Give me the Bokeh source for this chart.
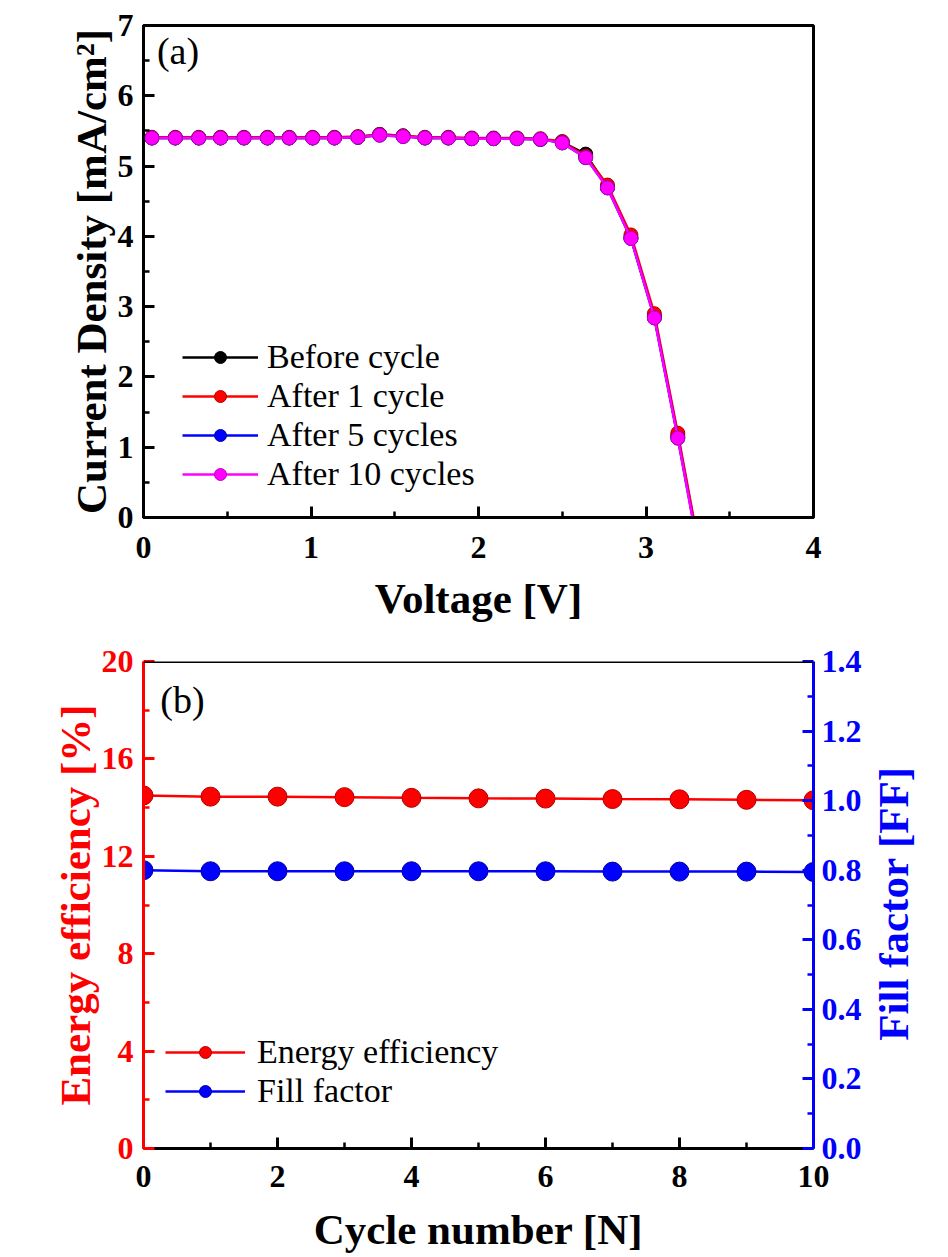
import math
from bokeh.plotting import figure
from bokeh.models import (Range1d, LinearAxis, FixedTicker, Legend, LegendItem, Label, Span,
                          PrintfTickFormatter)
from bokeh.layouts import column
from bokeh.embed import file_html
from bokeh.resources import INLINE

# ---------------- data (panel a) ----------------
voltage = [0.05, 0.19, 0.33, 0.46, 0.60, 0.74, 0.87, 1.01, 1.14, 1.28, 1.41, 1.55,
           1.68, 1.82, 1.96, 2.09, 2.23, 2.37, 2.50, 2.64, 2.77, 2.91, 3.05, 3.19, 3.32]
j_before = [5.40, 5.40, 5.40, 5.40, 5.40, 5.40, 5.40, 5.40, 5.40, 5.41, 5.45, 5.43,
            5.40, 5.40, 5.39, 5.39, 5.39, 5.38, 5.34, 5.17, 4.70, 3.98, 2.86, 1.16, -0.50]
j_1cycle = [5.41, 5.41, 5.41, 5.41, 5.41, 5.41, 5.41, 5.41, 5.41, 5.42, 5.45, 5.43,
            5.41, 5.41, 5.40, 5.40, 5.40, 5.39, 5.35, 5.14, 4.73, 4.02, 2.90, 1.20, -0.47]
j_5cycle = [5.40, 5.40, 5.40, 5.40, 5.40, 5.40, 5.40, 5.40, 5.40, 5.41, 5.44, 5.42,
            5.40, 5.40, 5.39, 5.39, 5.39, 5.38, 5.33, 5.12, 4.69, 3.97, 2.84, 1.13, -0.55]
j_10cycle = [5.40, 5.40, 5.40, 5.40, 5.40, 5.40, 5.40, 5.40, 5.40, 5.41, 5.44, 5.42,
             5.40, 5.40, 5.39, 5.39, 5.39, 5.38, 5.33, 5.12, 4.69, 3.97, 2.84, 1.13, -0.55]
series_a_names = ["Before cycle", "After 1 cycle", "After 5 cycles", "After 10 cycles"]
x_ticks_a = [0, 1, 2, 3, 4]
y_ticks_a = [0, 1, 2, 3, 4, 5, 6, 7]

# ---------------- data (panel b) ----------------
cycles = [0, 1, 2, 3, 4, 5, 6, 7, 8, 9, 10]
energy_eff = [14.50, 14.45, 14.45, 14.43, 14.40, 14.38, 14.37, 14.35, 14.34, 14.32, 14.30]
fill_factor = [0.800, 0.797, 0.797, 0.797, 0.797, 0.797, 0.797, 0.796, 0.796, 0.796, 0.795]
x_ticks_b = [0, 2, 4, 6, 8, 10]
y_ticks_b = [0, 4, 8, 12, 16, 20]
ff_ticks = [0.0, 0.2, 0.4, 0.6, 0.8, 1.0, 1.2, 1.4]

FONT = "Liberation Serif"
TICK_FS = "32px"
LABEL_FS = "43px"
LEG_FS = "34px"
W = 944
RB = 131


def style_axis(ax, color="black"):
    ax.axis_line_width = 3
    ax.axis_line_color = color
    ax.major_tick_line_color = color
    ax.minor_tick_line_color = color
    ax.major_tick_line_width = 3
    ax.minor_tick_line_width = 2.5
    ax.major_tick_in = 11
    ax.major_tick_out = 0
    ax.minor_tick_in = 6
    ax.minor_tick_out = 0
    ax.major_label_text_font = FONT
    ax.major_label_text_font_style = "bold"
    ax.major_label_text_font_size = TICK_FS
    ax.major_label_text_color = color
    ax.axis_label_text_font = FONT
    ax.axis_label_text_font_style = "bold"
    ax.axis_label_text_font_size = LABEL_FS
    ax.axis_label_text_color = color


def minors(ticks, n):
    out = []
    for a, b in zip(ticks[:-1], ticks[1:]):
        for k in range(1, n + 1):
            out.append(a + (b - a) * k / (n + 1))
    return out


# ---------------- panel (a) ----------------
p1 = figure(width=W, height=625, x_range=Range1d(0, 4), y_range=Range1d(0, 7),
            output_backend="svg", toolbar_location=None,
            min_border_left=143, min_border_right=RB, min_border_top=25, min_border_bottom=108)
p1.xgrid.visible = False
p1.ygrid.visible = False
p1.outline_line_color = "black"
p1.outline_line_width = 3
p1.xaxis.ticker = FixedTicker(ticks=x_ticks_a, minor_ticks=minors(x_ticks_a, 1))
p1.yaxis.ticker = FixedTicker(ticks=y_ticks_a, minor_ticks=minors(y_ticks_a, 1))
p1.xaxis.axis_label = "Voltage [V]"
p1.yaxis.axis_label = "Current Density [mA/cm²]"
for ax in p1.xaxis + p1.yaxis:
    style_axis(ax)
p1.xaxis.major_label_standoff = 19
p1.yaxis.major_label_standoff = 10
p1.xaxis.axis_label_standoff = 14
p1.yaxis.axis_label_standoff = 0

colors_a = ["black", "#ff0000", "#0000ff", "#ff00ff"]
edge_a = ["#000000", "#b00000", "#0000a0", "#c000c0"]
items = []
for name, j, c, e in zip(series_a_names, [j_before, j_1cycle, j_5cycle, j_10cycle], colors_a, edge_a):
    ln = p1.line(voltage, j, line_color=c, line_width=2.5)
    sc = p1.scatter(voltage, j, size=14, fill_color=c, line_color=e, line_width=1)
    items.append(LegendItem(label=name, renderers=[ln, sc]))

leg1 = Legend(items=items, location=(39, 24), label_text_font=FONT, label_text_font_size=LEG_FS,
              label_text_color="black",
              glyph_width=76, glyph_height=30, spacing=1, padding=0, margin=0,
              border_line_color=None, background_fill_alpha=0, label_standoff=9)
p1.add_layout(leg1)
p1.add_layout(Label(x=0.08, y=6.64, text="(a)", text_font=FONT, text_font_size="38px",
                    text_color="black", text_baseline="middle"))

# ---------------- panel (b) ----------------
p2 = figure(width=W, height=630, x_range=Range1d(0, 10), y_range=Range1d(0, 20),
            output_backend="svg", toolbar_location=None,
            min_border_left=143, min_border_right=RB, min_border_top=36, min_border_bottom=99)
p2.extra_y_ranges = {"ff": Range1d(0, 1.4)}
p2.xgrid.visible = False
p2.ygrid.visible = False
p2.outline_line_color = None
p2.xaxis.ticker = FixedTicker(ticks=x_ticks_b, minor_ticks=minors(x_ticks_b, 1))
p2.yaxis.ticker = FixedTicker(ticks=y_ticks_b, minor_ticks=minors(y_ticks_b, 1))
p2.xaxis.axis_label = "Cycle number [N]"
p2.yaxis.axis_label = "Energy efficiency [%]"
for ax in p2.xaxis:
    style_axis(ax)
for ax in p2.yaxis:
    style_axis(ax, "#ff0000")
rax = LinearAxis(y_range_name="ff",
                 ticker=FixedTicker(ticks=ff_ticks, minor_ticks=minors(ff_ticks, 1)))
style_axis(rax, "#0000ff")
rax.formatter = PrintfTickFormatter(format="%.1f")
p2.add_layout(rax, "right")
# empty spacer axis, to keep the right-hand title clear of the tick labels
gap = LinearAxis(y_range_name="ff", ticker=FixedTicker(ticks=[]), axis_label="\u00a0",
                 axis_line_color=None, major_tick_line_color=None, minor_tick_line_color=None,
                 axis_label_text_font_size="14px", axis_label_text_alpha=0,
                 axis_label_standoff=10)
p2.add_layout(gap, "right")
# title-only axis on the right: its single tick label is the axis title, reading bottom-to-top
TITLE_POS = 0.31
tax = LinearAxis(y_range_name="ff", ticker=FixedTicker(ticks=[TITLE_POS]),
                 major_label_overrides={TITLE_POS: "Fill factor [FF]"})
style_axis(tax, "#0000ff")
tax.major_label_text_font_size = LABEL_FS
tax.axis_line_color = None
tax.major_tick_line_color = None
tax.minor_tick_line_color = None
tax.major_label_orientation = math.pi / 2
tax.major_label_standoff = 2
p2.add_layout(tax, "right")

p2.xaxis.major_label_standoff = 17
p2.yaxis.major_label_standoff = 10
rax.major_label_standoff = 8
p2.xaxis.axis_label_standoff = 16
p2.yaxis.axis_label_standoff = 0
p2.add_layout(Span(location=20, dimension="width", line_color="black", line_width=3))

l_ee = p2.line(cycles, energy_eff, line_color="#ff0000", line_width=2.5)
s_ee = p2.scatter(cycles, energy_eff, size=19, fill_color="#ff0000", line_color="#b00000")
l_ff = p2.line(cycles, fill_factor, line_color="#0000ff", line_width=2.5, y_range_name="ff")
s_ff = p2.scatter(cycles, fill_factor, size=19, fill_color="#0000ff", line_color="#0000a0",
                  y_range_name="ff")
leg2 = Legend(items=[LegendItem(label="Energy efficiency", renderers=[l_ee, s_ee]),
                     LegendItem(label="Fill factor", renderers=[l_ff, s_ff])],
              location=(22, 38), label_text_font=FONT, label_text_font_size=LEG_FS,
              label_text_color="black",
              glyph_width=80, glyph_height=30, spacing=1, padding=0, margin=0,
              border_line_color=None, background_fill_alpha=0, label_standoff=12)
p2.add_layout(leg2)
p2.add_layout(Label(x=0.25, y=18.4, text="(b)", text_font=FONT, text_font_size="38px",
                    text_color="black", text_baseline="middle"))

layout = column(p1, p2)
open("out.html", "w").write(file_html(layout, INLINE))
